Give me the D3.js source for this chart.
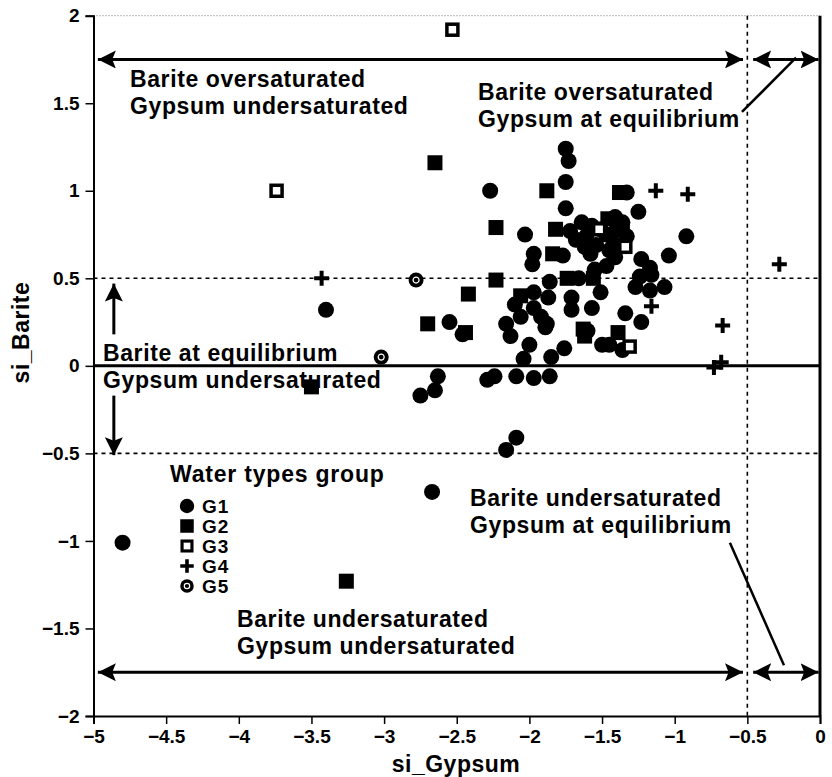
<!DOCTYPE html>
<html>
<head>
<meta charset="utf-8">
<script src="https://cdn.jsdelivr.net/npm/d3@7"></script>
<style>
  body { margin: 0; background: #fff; }
  text { font-family: "Liberation Sans", Arial, sans-serif; font-weight: bold; fill: #000; }
</style>
</head>
<body>
<div id="chart"></div>
<script>
// saturation index points, one array of [si_Gypsum, si_Barite] per water type group
const g1 = [
  [-4.80, -1.01], [-3.40, 0.32], [-2.67, -0.72], [-2.09, -0.41], [-2.16, -0.48],
  [-2.75, -0.17], [-2.65, -0.14], [-2.63, -0.06], [-2.29, -0.08], [-2.24, -0.06],
  [-2.09, -0.06], [-1.97, -0.07], [-1.86, -0.06], [-2.55, 0.25], [-2.46, 0.18],
  [-2.27, 1.00], [-2.16, 0.24], [-2.13, 0.17], [-1.75, 1.24], [-1.73, 1.17],
  [-1.75, 1.05], [-1.75, 0.90], [-2.03, 0.75], [-1.97, 0.64], [-1.98, 0.58],
  [-1.77, 0.63], [-1.58, 0.64], [-1.64, 0.82], [-1.72, 0.77], [-1.61, 0.74],
  [-1.51, 0.78], [-1.40, 0.78], [-1.33, 0.74], [-1.42, 0.70], [-1.54, 0.69],
  [-1.33, 0.99], [-1.25, 0.88], [-0.92, 0.74], [-1.04, 0.63], [-1.23, 0.61],
  [-1.17, 0.56], [-1.16, 0.52], [-1.27, 0.45], [-1.17, 0.43], [-1.07, 0.45],
  [-1.41, 0.62], [-1.41, 0.85], [-1.34, 0.30], [-1.23, 0.25], [-1.36, 0.09],
  [-1.45, 0.12], [-1.50, 0.12], [-1.76, 0.10], [-1.85, 0.05], [-2.00, 0.12],
  [-2.04, 0.04], [-1.89, 0.22], [-1.97, 0.33], [-2.10, 0.35], [-1.87, 0.39],
  [-1.71, 0.32], [-1.57, 0.33], [-1.71, 0.39], [-1.51, 0.42], [-1.86, 0.48],
  [-1.24, 0.51], [-1.97, 0.42], [-1.88, 0.24], [-1.47, 0.57], [-1.55, 0.55],
  [-1.66, 0.50], [-1.92, 0.28], [-1.60, 0.20], [-2.06, 0.28], [-1.47, 0.75],
  [-1.57, 0.80], [-1.45, 0.66], [-1.62, 0.68], [-1.68, 0.72], [-1.36, 0.82]
];
const g2 = [
  [-2.65, 1.16], [-1.88, 1.00], [-2.23, 0.79], [-1.82, 0.78], [-2.23, 0.49],
  [-2.42, 0.41], [-2.70, 0.24], [-2.44, 0.19], [-1.84, 0.64], [-1.38, 0.99],
  [-1.63, 0.21], [-1.39, 0.19], [-3.50, -0.12], [-3.26, -1.23], [-1.74, 0.50],
  [-1.56, 0.50], [-2.06, 0.40], [-1.46, 0.84], [-1.62, 0.17], [-1.36, 0.78]
];
const g3 = [
  [-3.74, 1.00], [-2.53, 1.92], [-1.34, 0.68], [-1.31, 0.11], [-1.52, 0.78]
];
const g4 = [
  [-3.43, 0.50], [-1.13, 1.00], [-0.91, 0.98], [-1.16, 0.34], [-0.67, 0.23],
  [-0.68, 0.02], [-0.73, -0.01], [-0.28, 0.58]
];
const g5 = [
  [-2.78, 0.49], [-3.02, 0.05]
];

const groupNames = ["G1", "G2", "G3", "G4", "G5"];
const xTicks = [-5, -4.5, -4, -3.5, -3, -2.5, -2, -1.5, -1, -0.5, 0];
const yTicks = [-2, -1.5, -1, -0.5, 0, 0.5, 1, 1.5, 2];

const width = 832, height = 777;

const x = d3.scaleLinear().domain([-5, 0]).range([93.5, 820]);
const y = d3.scaleLinear().domain([-2, 2]).range([716, 15.7]);

const svg = d3.select("#chart").append("svg")
  .attr("width", width).attr("height", height);

// arrow head marker
const defs = svg.append("defs");
defs.append("marker")
  .attr("id", "head")
  .attr("viewBox", "0 0 10 10")
  .attr("refX", 10).attr("refY", 5)
  .attr("markerWidth", 6).attr("markerHeight", 6)
  .attr("markerUnits", "strokeWidth")
  .attr("orient", "auto-start-reverse")
  .append("path").attr("d", "M0,0 L10,5 L0,10 L2,5 Z").attr("fill", "#000");

// frame
const plotG = svg.append("g");
plotG.append("line") // top, dotted
  .attr("x1", x(-5)).attr("x2", x(0)).attr("y1", y(2)).attr("y2", y(2))
  .attr("stroke", "#777").attr("stroke-width", 1).attr("stroke-dasharray", "1,2");
plotG.append("line") // right border
  .attr("x1", x(0)).attr("x2", x(0)).attr("y1", y(2)).attr("y2", y(-2))
  .attr("stroke", "#000").attr("stroke-width", 3);

// reference lines
const dash = "4,4";
[0.5, -0.5].forEach(v => {
  plotG.append("line")
    .attr("x1", x(-5)).attr("x2", x(0)).attr("y1", y(v)).attr("y2", y(v))
    .attr("stroke", "#000").attr("stroke-width", 1.6).attr("stroke-dasharray", dash);
});
plotG.append("line")
  .attr("x1", x(-0.5)).attr("x2", x(-0.5)).attr("y1", y(2)).attr("y2", y(-2))
  .attr("stroke", "#000").attr("stroke-width", 1.6).attr("stroke-dasharray", dash);
plotG.append("line")
  .attr("x1", x(-5)).attr("x2", x(0)).attr("y1", y(0)).attr("y2", y(0))
  .attr("stroke", "#000").attr("stroke-width", 3);

// axes
const fmt = d => d3.format("")(d);
const minorX = d3.range(-5, 0.001, 0.25);
const minorY = d3.range(-2, 2.001, 0.25);

const xAxisG = svg.append("g").attr("transform", `translate(0,${y(-2)})`);
xAxisG.call(d3.axisBottom(x).tickValues(minorX).tickSize(5).tickFormat(""));
xAxisG.call(d3.axisBottom(x).tickValues(xTicks).tickSize(8).tickPadding(6).tickFormat(fmt));
xAxisG.selectAll(".domain").attr("stroke-width", 2);
xAxisG.selectAll("line").attr("stroke-width", 1.5);
xAxisG.selectAll("text").attr("font-size", 19).attr("font-family", "Liberation Sans").attr("font-weight", "bold");

const yAxisG = svg.append("g").attr("transform", `translate(${x(-5)},0)`);
yAxisG.call(d3.axisLeft(y).tickValues(minorY).tickSize(5).tickFormat(""));
yAxisG.call(d3.axisLeft(y).tickValues(yTicks).tickSize(8).tickPadding(6).tickFormat(fmt));
yAxisG.selectAll(".domain").attr("stroke-width", 2);
yAxisG.selectAll("line").attr("stroke-width", 1.5);
yAxisG.selectAll("text").attr("font-size", 19).attr("font-family", "Liberation Sans").attr("font-weight", "bold");

// axis titles
svg.append("text").attr("x", 456).attr("y", 772).attr("text-anchor", "middle")
  .attr("font-size", 23).attr("letter-spacing", 0.5).text("si_Gypsum");
svg.append("text").attr("transform", `translate(29,${y(0.19)}) rotate(-90)`)
  .attr("text-anchor", "middle").attr("font-size", 23).attr("letter-spacing", 0.5).text("si_Barite");

// zone arrows
const arrow = (x1, y1, x2, y2, both) => {
  const l = plotG.append("line")
    .attr("x1", x(x1)).attr("y1", y(y1)).attr("x2", x(x2)).attr("y2", y(y2))
    .attr("stroke", "#000").attr("stroke-width", 3)
    .attr("marker-end", "url(#head)");
  if (both) l.attr("marker-start", "url(#head)");
};
arrow(-4.97, 1.75, -0.53, 1.75, true);
arrow(-0.46, 1.75, -0.01, 1.75, true);
arrow(-4.97, -1.75, -0.53, -1.75, true);
arrow(-0.46, -1.75, -0.01, -1.75, true);
arrow(-4.86, 0.18, -4.86, 0.47, false);
arrow(-4.86, -0.17, -4.86, -0.51, false);

// pointer lines from labels to the narrow zone
plotG.append("line").attr("x1", x(-0.537)).attr("y1", y(1.45)).attr("x2", x(-0.165)).attr("y2", y(1.76))
  .attr("stroke", "#000").attr("stroke-width", 2.5);
plotG.append("line").attr("x1", x(-0.62)).attr("y1", y(-1.01)).attr("x2", x(-0.248)).attr("y2", y(-1.71))
  .attr("stroke", "#000").attr("stroke-width", 2.5);

// zone labels
const label = (px, py, lines) => {
  const t = svg.append("text").attr("font-size", 23).attr("letter-spacing", 0.6);
  lines.forEach((s, i) => t.append("tspan").attr("x", px).attr("y", py + i * 27).text(s));
};
label(130, 87, ["Barite oversaturated", "Gypsum undersaturated"]);
label(478, 100, ["Barite oversaturated", "Gypsum at equilibrium"]);
label(103, 361, ["Barite at equilibrium", "Gypsum undersaturated"]);
label(470, 506, ["Barite undersaturated", "Gypsum at equilibrium"]);
label(237, 627, ["Barite undersaturated", "Gypsum undersaturated"]);

// markers
const drawMark = (sel, type, s) => {
  if (type === "G1") {
    sel.append("circle").attr("r", 8 * s).attr("fill", "#000");
  } else if (type === "G2") {
    sel.append("rect").attr("x", -7.5 * s).attr("y", -7.5 * s).attr("width", 15 * s).attr("height", 15 * s).attr("fill", "#000");
  } else if (type === "G3") {
    sel.append("rect").attr("x", -5.5 * s).attr("y", -5.5 * s).attr("width", 11 * s).attr("height", 11 * s)
      .attr("fill", "#fff").attr("stroke", "#000").attr("stroke-width", 3.5 * s);
  } else if (type === "G4") {
    sel.append("path").attr("d", `M${-7.5 * s},0H${7.5 * s}M0,${-7.5 * s}V${7.5 * s}`)
      .attr("stroke", "#000").attr("stroke-width", 4 * s).attr("fill", "none");
  } else {
    sel.append("circle").attr("r", 7.5 * s).attr("fill", "#000");
    sel.append("circle").attr("r", 3 * s).attr("fill", "none").attr("stroke", "#fff").attr("stroke-width", 1.2);
  }
};

const groups = [g1, g2, g3, g4, g5];
groups.forEach((pts, gi) => {
  svg.append("g").selectAll("g")
    .data(pts)
    .join("g")
    .attr("transform", d => `translate(${x(d[0])},${y(d[1])})`)
    .each(function () { drawMark(d3.select(this), groupNames[gi], 1); });
});

// legend
const legendG = svg.append("g");
legendG.append("text").attr("x", 170).attr("y", 482).attr("font-size", 23).attr("letter-spacing", 0.8).text("Water types group");
const items = legendG.selectAll("g.item").data(groupNames).join("g")
  .attr("class", "item")
  .attr("transform", (d, i) => `translate(187,${506 + i * 20})`);
items.each(function (d) { drawMark(d3.select(this), d, 0.9); });
items.append("text").attr("x", 15).attr("y", 7).attr("font-size", 19).attr("letter-spacing", 1).text(d => d);
</script>
</body>
</html>
